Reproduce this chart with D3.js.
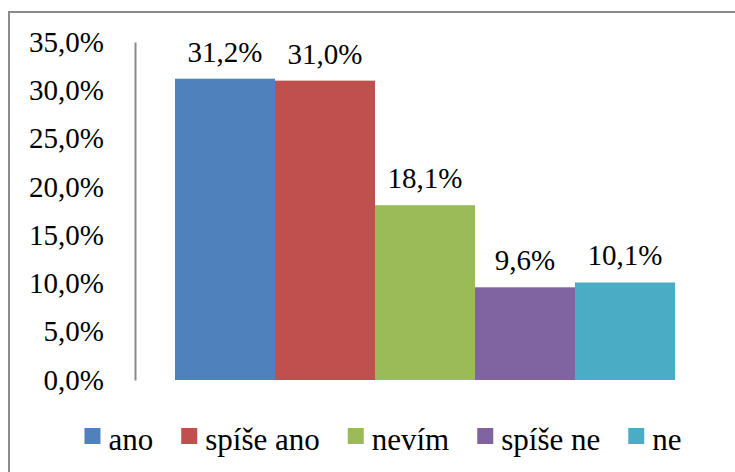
<!DOCTYPE html>
<html>
<head>
<meta charset="utf-8">
<script src="https://cdn.jsdelivr.net/npm/d3@7"></script>
</head>
<body style="margin:0">
<script>
// data
var categories = ["ano", "spíše ano", "nevím", "spíše ne", "ne"];
var values = [31.2, 31.0, 18.1, 9.6, 10.1];
var colors = ["#4F81BD", "#C0504D", "#9BBB59", "#8064A2", "#4BACC6"];
var yTicks = [0, 5, 10, 15, 20, 25, 30, 35];

var W = 735, H = 472;
var FONT = "'Liberation Serif'";
var fmt = function (v) { return v.toFixed(1).replace(".", ",") + "%"; };

var svg = d3.select("body")
    .append("svg")
    .attr("width", W)
    .attr("height", H);

// chart border (runs off the right and bottom of the picture)
svg.append("rect")
    .attr("x", 9)
    .attr("y", 12)
    .attr("width", 760)
    .attr("height", 480)
    .attr("fill", "none")
    .attr("stroke", "#8a8a8a")
    .attr("stroke-width", 2);

// plot area
var plotLeft = 135, plotRight = 715, plotTop = 42, plotBottom = 380;

var y = d3.scaleLinear()
    .domain([0, 35])
    .range([plotBottom, plotTop]);

// one category, bars side by side, gap at both sides
var x = d3.scaleBand()
    .domain(categories)
    .range([plotLeft, plotRight])
    .paddingOuter(0.4)
    .paddingInner(0);

// y axis
var yAxis = svg.append("g")
    .attr("transform", "translate(" + plotLeft + ",0)")
    .call(d3.axisLeft(y)
        .tickValues(yTicks)
        .tickSize(0)
        .tickPadding(31)
        .tickFormat(fmt));
yAxis.select(".domain").attr("stroke", "#8a8a8a").attr("stroke-width", 2);
yAxis.selectAll("text")
    .attr("fill", "#000")
    .style("font-size", "29px")
    .style("font-family", FONT);

// bars
svg.append("g")
    .selectAll("rect")
    .data(values)
    .enter()
    .append("rect")
    .attr("x", function (d, i) { return x(categories[i]); })
    .attr("y", function (d) { return y(d); })
    .attr("width", x.bandwidth())
    .attr("height", function (d) { return y(0) - y(d); })
    .attr("fill", function (d, i) { return colors[i]; });

// value labels
svg.append("g")
    .selectAll("text")
    .data(values)
    .enter()
    .append("text")
    .attr("x", function (d, i) { return x(categories[i]) + x.bandwidth() / 2; })
    .attr("y", function (d) { return y(d) - 17; })
    .attr("text-anchor", "middle")
    .style("font-size", "29px")
    .style("font-family", FONT)
    .text(fmt);

// legend
var legend = svg.append("g");
var items = legend.selectAll("g")
    .data(categories)
    .enter()
    .append("g");
items.append("rect")
    .attr("width", 16)
    .attr("height", 16)
    .attr("y", -22)
    .attr("fill", function (d, i) { return colors[i]; });
items.append("text")
    .attr("x", 24)
    .attr("y", 0)
    .style("font-size", "31px")
    .style("font-family", FONT)
    .text(function (d) { return d; });

var pos = 0;
items.each(function () {
    var g = d3.select(this);
    g.attr("transform", "translate(" + pos + ",0)");
    pos += 24 + g.select("text").node().getComputedTextLength() + 28;
});
var legendWidth = pos - 28;
legend.attr("transform", "translate(" + (383 - legendWidth / 2) + ",450)");
</script>
</body>
</html>
